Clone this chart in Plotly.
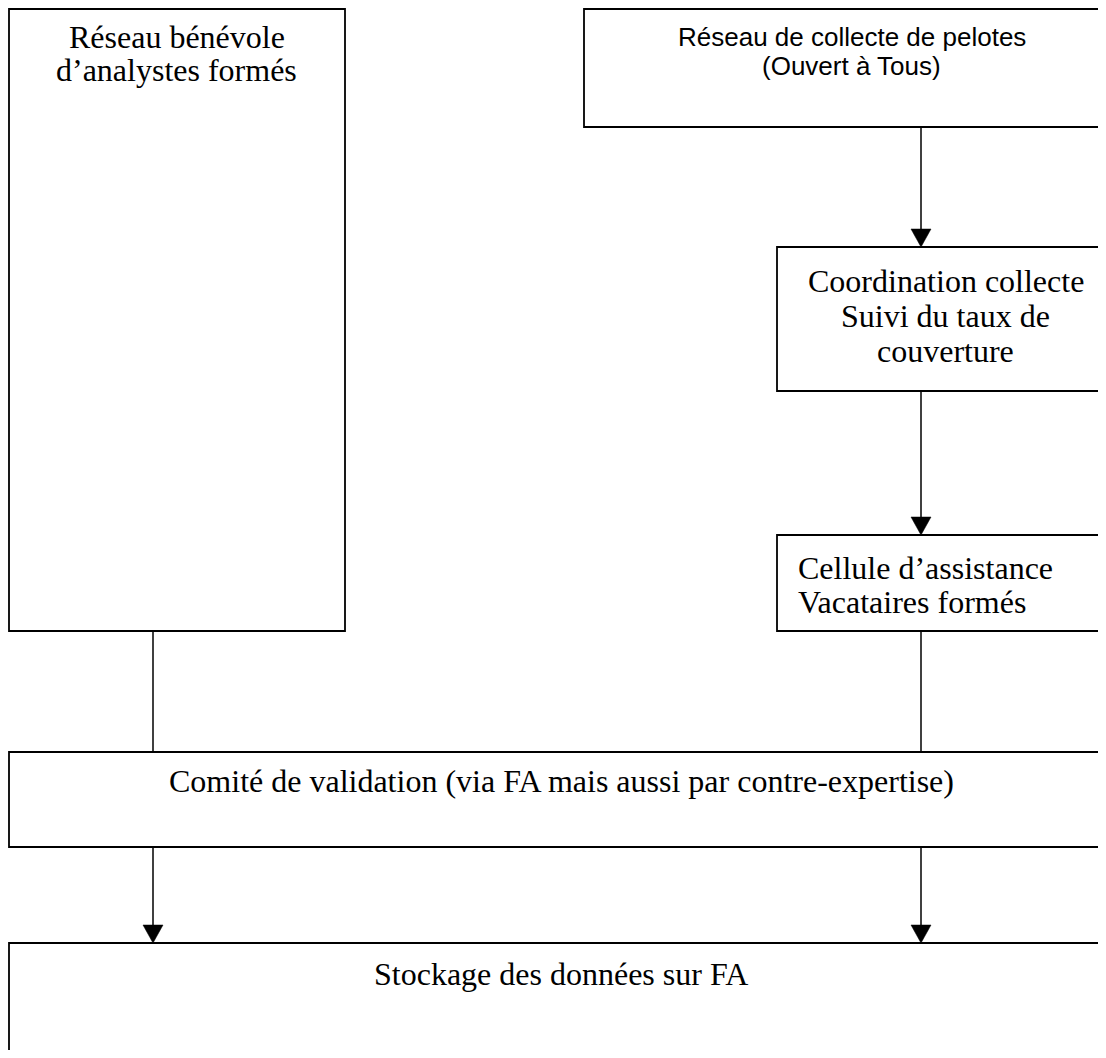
import plotly.graph_objects as go

# ---- Content (text of the flowchart) ----
box_lines = [
    ["Réseau bénévole", "d’analystes formés"],
    ["Réseau de collecte de pelotes", "(Ouvert à Tous)"],
    ["Coordination collecte", "Suivi du taux de", "couverture"],
    ["Cellule d’assistance", "Vacataires formés"],
    ["Comité de validation (via FA mais aussi par contre-expertise)"],
    ["Stockage des données sur FA"],
]
# connectors: source box index, target box index, arrow head?
edge_from = [1, 2, 0, 3, 4, 4]
edge_to = [2, 3, 4, 4, 5, 5]
edge_arrow = [True, True, False, False, True, True]

# ---- Layout geometry (screen pixels, y downward) ----
# The page body has an 8px margin, so the figure starts at (8, 8) on screen;
# the axis ranges are set so that data coordinates equal screen pixels.
OFF = 8
W, H = 1106 - 2 * OFF, 1058 - 2 * OFF
box_x0 = [9, 584, 777, 777, 9, 9]
box_x1 = [345, 1118, 1114, 1114, 1114, 1114]
box_y0 = [9, 9, 247, 535, 752, 943]
box_y1 = [631, 127, 391, 631, 847, 1080]
edge_x = [921, 921, 153, 921, 153, 921]

text_x = [176.5, 851.5, 945.5, 796, 561, 561]
text_anchor = ["center", "center", "center", "left", "center", "center"]
text_y0 = [37, 37, 281, 568, 781, 974]
text_dy = [33, 29, 35, 34, 0, 0]
text_font = ["serif", "sans", "serif", "serif", "serif", "serif"]
text_size = {"serif": 32, "sans": 26}
font_family = {
    "serif": "Liberation Serif, Times New Roman, serif",
    "sans": "Liberation Sans, Arial, sans-serif",
}

fig = go.Figure()
fig.add_trace(go.Scatter(x=[OFF], y=[OFF], mode="markers",
                         marker=dict(opacity=0), hoverinfo="skip", showlegend=False))

shapes = []
for i in range(len(box_lines)):
    shapes.append(dict(type="rect", xref="x", yref="y",
                       x0=box_x0[i], x1=box_x1[i], y0=box_y0[i], y1=box_y1[i],
                       line=dict(color="black", width=1.8), fillcolor="rgba(0,0,0,0)",
                       layer="above"))

ah_w, ah_h = 10, 18
for f, t, a, x in zip(edge_from, edge_to, edge_arrow, edge_x):
    ys = box_y1[f]
    ye = box_y0[t]
    shapes.append(dict(type="line", xref="x", yref="y", x0=x, x1=x,
                       y0=ys, y1=ye - (ah_h - 2 if a else 0),
                       line=dict(color="black", width=1.5)))
    if a:
        shapes.append(dict(type="path", xref="x", yref="y",
                           path=f"M {x-ah_w},{ye-ah_h} L {x+ah_w},{ye-ah_h} L {x},{ye} Z",
                           fillcolor="black", line=dict(color="black", width=0.5)))

annotations = []
for i, lines in enumerate(box_lines):
    fam = text_font[i]
    for j, ln in enumerate(lines):
        annotations.append(dict(
            x=text_x[i], y=text_y0[i] + j * text_dy[i], xref="x", yref="y",
            text=ln, showarrow=False, xanchor=text_anchor[i], yanchor="middle",
            font=dict(family=font_family[fam], size=text_size[fam], color="black"),
        ))

fig.update_layout(
    width=W, height=H,
    margin=dict(l=0, r=0, t=0, b=0, pad=0),
    paper_bgcolor="white", plot_bgcolor="white",
    xaxis=dict(range=[OFF, OFF + W], visible=False, fixedrange=True),
    yaxis=dict(range=[OFF + H, OFF], visible=False, fixedrange=True),
    shapes=shapes, annotations=annotations, showlegend=False,
)

fig.write_html("out.html")
